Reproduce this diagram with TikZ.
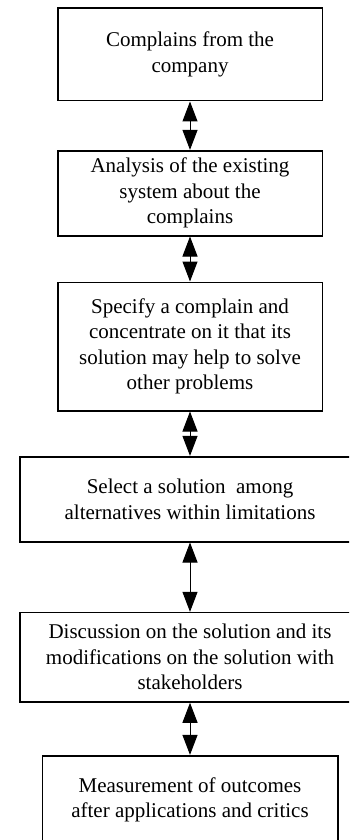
\documentclass[tikz,border=0pt]{standalone}
\usepackage{fontspec}
\setmainfont{Liberation Serif}
\usetikzlibrary{arrows.meta}
\tikzset{
  stepbox/.style={draw=black, line width=1.6pt, inner sep=0pt, align=center,
    font=\fontsize{21}{25.5}\selectfont},
  biarrow/.style={line width=1pt, {Triangle[length=20pt,width=15pt]}-{Triangle[length=20pt,width=15pt]}}
}
\begin{document}
\begin{tikzpicture}[x=1pt,y=-1pt]
\useasboundingbox (0,0) rectangle (349,840);
\clip (0,0) rectangle (349,840);
\node[stepbox, minimum width=264.6pt, minimum height=92.4pt] (b1) at (190,54.5)
  {Complains from the\\company};
\node[stepbox, minimum width=264.6pt, minimum height=85pt] (b2) at (190,193.2)
  {Analysis of the existing\\system about the\\complains};
\node[stepbox, minimum width=264.6pt, minimum height=128.4pt] (b3) at (190,346.5)
  {Specify a complain and\\concentrate on it that its\\solution may help to solve\\other problems};
\node[stepbox, minimum width=340pt, minimum height=85pt] (b4) at (190,499.2)
  {Select a solution \ among\\alternatives within limitations};
\node[stepbox, minimum width=340pt, minimum height=89.3pt] (b5) at (190,657.3)
  {Discussion on the solution and its\\modifications on the solution with\\stakeholders};
\node[stepbox, minimum width=295.4pt, minimum height=88.6pt] (b6) at (190,800)
  {Measurement of outcomes\\after applications and critics};
\draw[biarrow] (b1.south) -- (b2.north);
\draw[biarrow] (b2.south) -- (b3.north);
\draw[biarrow] (b3.south) -- (b4.north);
\draw[biarrow] (b4.south) -- (b5.north);
\draw[biarrow] (b5.south) -- (b6.north);
\end{tikzpicture}
\end{document}
